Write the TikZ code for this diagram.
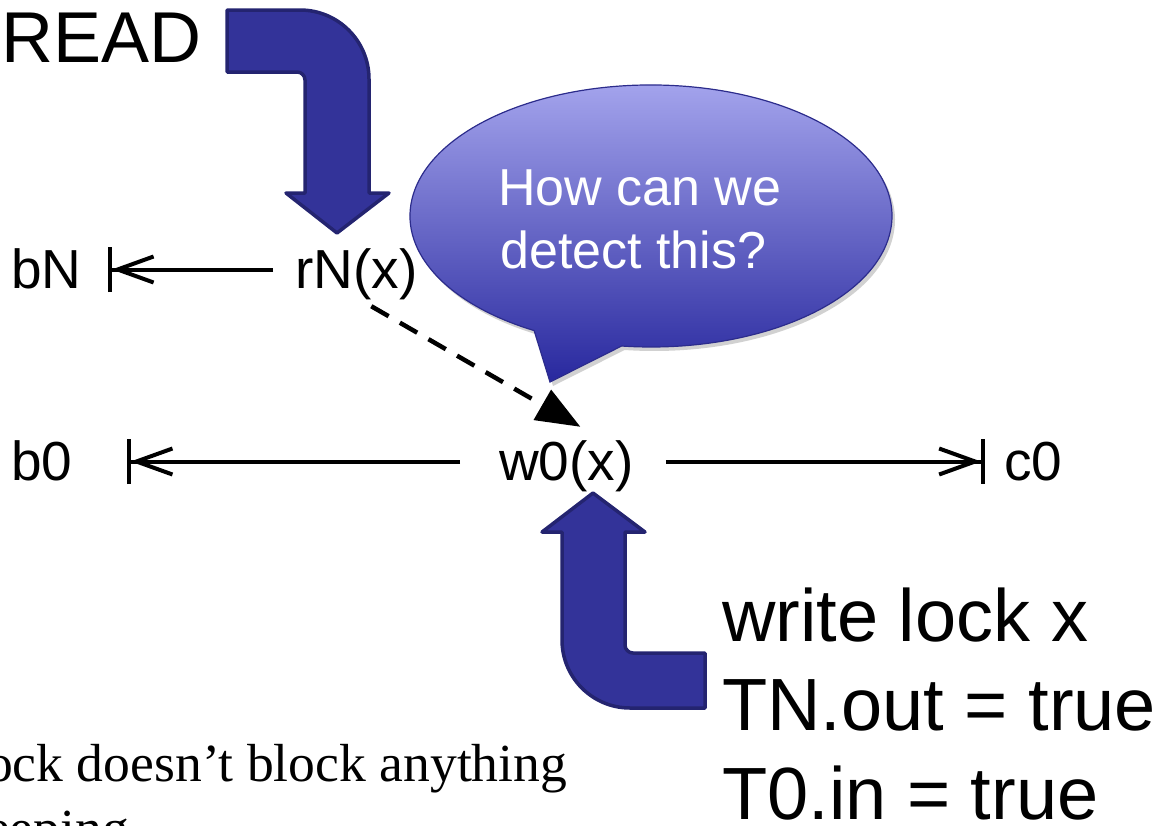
\documentclass[tikz,border=0pt]{standalone}
\usepackage{fontspec}
\setmainfont{Liberation Sans}
\newfontfamily\timesfont{Liberation Serif}
\usetikzlibrary{arrows.meta,calc}
\definecolor{arrowfill}{RGB}{51,51,153}
\definecolor{arrowline}{RGB}{36,36,112}
\definecolor{bubtop}{RGB}{166,166,238}
\definecolor{bubmid}{RGB}{128,128,214}
\definecolor{bubbot}{RGB}{40,40,158}
\definecolor{bubline}{RGB}{44,44,140}
\begin{document}
\begin{tikzpicture}[x=1pt,y=1pt,
  lbl/.style={font=\fontsize{55}{55}\selectfont, inner sep=0pt,
              text height=37pt, text depth=0pt, anchor=base west},
  big/.style={font=\fontsize{74}{74}\selectfont, inner sep=0pt, anchor=base west},
  bubtext/.style={font=\fontsize{52}{52}\selectfont, text=white, inner sep=0pt, anchor=base west},
  note/.style={font=\timesfont\fontsize{53.6}{53.6}\selectfont, inner sep=0pt, anchor=base west},
  timeline/.style={line width=4pt,
     -{Straight Barb[length=36pt,width=26pt,sep=0pt]Bar[width=45pt]}},
  depends/.style={line width=4.5pt, dash pattern=on 20pt off 13pt,
     -{Triangle[length=44pt,width=34pt]}},
  bent/.style={fill=arrowfill, draw=arrowline, line width=3.5pt, line join=round}
]
\clip (0,0) rectangle (1164,-825);

% labels of the transactions
\node[font=\fontsize{72}{72}\selectfont, inner sep=0pt, anchor=base west] (read) at (1.5,-62) {READ};
\node[lbl] (bN) at (11,-288) {bN};
\node[lbl] (rN) at (295,-288) {rN(x)};
\node[lbl] (b0) at (11,-480) {b0};
\node[lbl] (w0) at (499,-480) {w0(x)};
\node[lbl] (c0) at (1004,-480) {c0};

% time lines
\draw[timeline] ([xshift=-22pt]rN.west) -- ([xshift=26pt]bN.east);
\draw[timeline] ([xshift=-39pt]w0.west) -- ([xshift=54pt]b0.east);
\draw[timeline] ([xshift=32pt]w0.east) -- ([xshift=-19pt]c0.west);

% read-from dependency
\draw[depends] ($(rN.south)+(15,-18)$) -- ($(w0.north)+(14,16)$);

% bent arrow for READ
\draw[bent] (227,-10) -- (300,-10) arc[start angle=90,end angle=0,radius=69]
  -- (369,-193) -- (389,-193) -- (337,-233) -- (286,-193) -- (305,-193)
  -- (305,-80) arc[start angle=0,end angle=90,radius=8] -- (227,-72) -- cycle;

% bent arrow for the write lock
\draw[bent] (593,-493) -- (645,-532) -- (625,-532)
  -- (625,-645) arc[start angle=180,end angle=270,radius=8]
  -- (705,-653) -- (705,-708) -- (630,-708)
  arc[start angle=270,end angle=180,radius=68] -- (562,-532) -- (542,-532) -- cycle;

% speech bubble
\fill[black!18] (624.6,-350) arc[start angle=263,end angle=601,x radius=241,y radius=131]
  -- (553,-386) -- cycle;
\shade[top color=bubtop, middle color=bubmid, bottom color=bubbot, draw=bubline, line width=1.2pt]
  (621.6,-346) arc[start angle=263,end angle=601,x radius=241,y radius=131]
  -- (550,-382) -- cycle;
\node[bubtext] (q1) at (498,-205) {How can we};
\node[bubtext] (q2) at (500,-268) {detect this?};

% write lock
\node[big] (wl) at (722,-641) {write lock x};
\node[big] (tn) at (722,-730) {TN.out = true};
\node[big] (t0) at (722,-819) {T0.in = true};

% note
\node[note] (n1) at (-14,-781) {ock doesn’t block anything};
\node[note] (n2) at (-14,-846) {eeping};
\end{tikzpicture}
\end{document}
